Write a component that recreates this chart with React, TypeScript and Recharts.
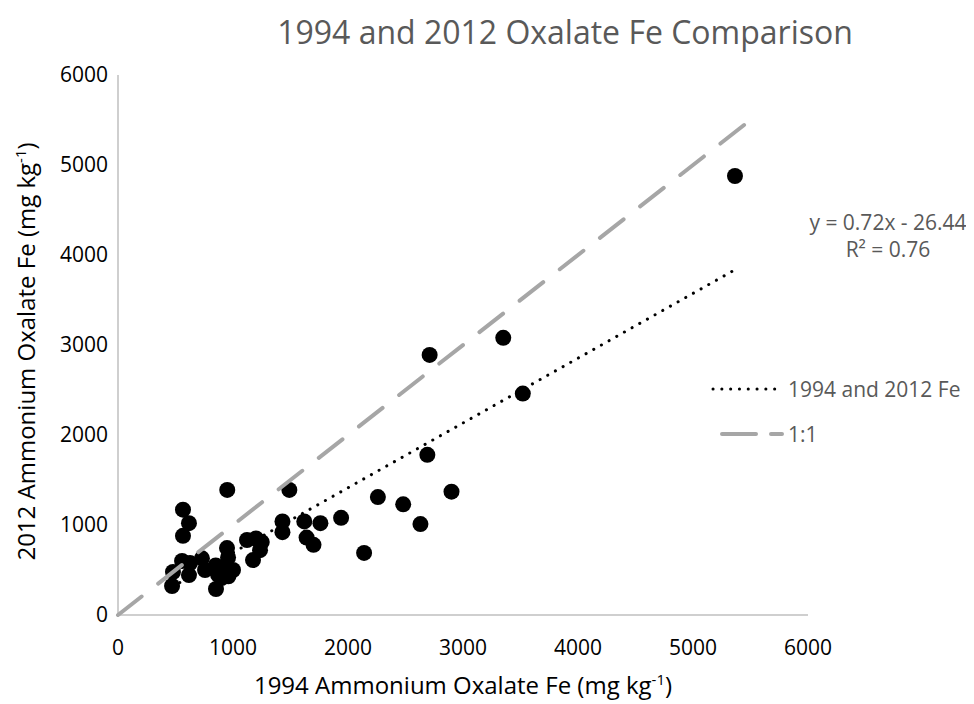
import { Scatter, ScatterChart, XAxis, YAxis } from 'recharts'

// 1994 vs 2012 ammonium oxalate Fe
const fe1994 = [
  5365, 3350, 3520, 2710, 2690, 2900, 2630, 2140, 2260, 2480,
  1940, 1760, 1620, 1430, 1430, 1640, 1700, 1490, 950, 565,
  617, 565, 557, 626, 478, 470, 617, 730, 757, 948,
  957, 852, 1122, 1200, 1250, 1174, 1235, 900, 850, 960,
  900, 1000, 930, 870,
]
const fe2012 = [
  4878, 3080, 2460, 2890, 1780, 1370, 1010, 690, 1310, 1230,
  1080, 1020, 1040, 1040, 920, 860, 780, 1390, 1390, 1170,
  1020, 880, 600, 578, 478, 322, 444, 630, 500, 744,
  640, 289, 833, 850, 810, 610, 720, 500, 550, 430,
  410, 500, 470, 450,
]
const axisTicks = [0, 1000, 2000, 3000, 4000, 5000, 6000]
const trendSlope = 0.72
const trendIntercept = -26.44
const oneToOneEnds = [0, 5500]

const points = fe1994.map((x, i) => ({ x, y: fe2012[i] }))
const xMin = Math.min(...fe1994)
const xMax = Math.max(...fe1994)
const trend = [xMin, xMax].map((x) => ({ x, y: trendSlope * x + trendIntercept }))
const oneToOne = oneToOneEnds.map((v) => ({ x: v, y: v }))

const FONT = '"Open Sans", sans-serif'
const GREY_TEXT = '#595959'
const AXIS = '#bfbfbf'
const DASH = '#a6a6a6'
const DOTS = '0.1 8.7'
const DASHES = '30 21'

const Dot = (p: { cx?: number; cy?: number }) => <circle cx={p.cx} cy={p.cy} r={8} fill="#000" />
const NoDot = () => null

export default function App() {
  return (
    <div style={{ position: 'relative', width: 966, height: 696, fontFamily: FONT }}>
      <div
        style={{
          position: 'absolute',
          left: 0,
          width: 1114,
          top: 2,
          textAlign: 'center',
          fontSize: 32,
          color: GREY_TEXT,
        }}
      >
        1994 and 2012 Oxalate Fe Comparison
      </div>

      <ScatterChart width={966} height={696} margin={{ top: 67, right: 166, bottom: 59, left: 0 }}>
        <XAxis
          type="number"
          dataKey="x"
          domain={[0, 6000]}
          ticks={axisTicks}
          height={30}
          tickLine={false}
          tickMargin={19}
          axisLine={{ stroke: AXIS, strokeWidth: 1.5 }}
          tick={{ fill: '#000', fontSize: 21, fontFamily: FONT }}
        />
        <YAxis
          type="number"
          dataKey="y"
          domain={[0, 6000]}
          ticks={axisTicks}
          width={110}
          tickLine={false}
          tickMargin={4}
          axisLine={{ stroke: AXIS, strokeWidth: 1.5 }}
          tick={{ fill: '#000', fontSize: 21, fontFamily: FONT }}
        />
        <Scatter data={points} shape={Dot} isAnimationActive={false} />
        <Scatter
          data={trend}
          shape={NoDot}
          line={{ stroke: '#000', strokeWidth: 3, strokeDasharray: DOTS, strokeLinecap: 'round' }}
          isAnimationActive={false}
        />
        <Scatter
          data={oneToOne}
          shape={NoDot}
          line={{ stroke: DASH, strokeWidth: 4, strokeDasharray: DASHES, strokeLinecap: 'round' }}
          isAnimationActive={false}
        />
      </ScatterChart>

      <div
        style={{ position: 'absolute', left: 110, width: 690, top: 660, textAlign: 'center', fontSize: 24, color: '#000' }}
      >
        1994 Ammonium Oxalate Fe (mg kg<sup style={{ fontSize: 15 }}>-1</sup>)
      </div>
      <div
        style={{
          position: 'absolute',
          left: 17,
          top: 343,
          width: 0,
          height: 0,
          display: 'flex',
          alignItems: 'center',
          justifyContent: 'center',
        }}
      >
        <div style={{ transform: 'rotate(-90deg)', whiteSpace: 'nowrap', fontSize: 24, color: '#000' }}>
          2012 Ammonium Oxalate Fe (mg kg<sup style={{ fontSize: 15 }}>-1</sup>)
        </div>
      </div>

      <div
        style={{
          position: 'absolute',
          left: 788,
          width: 184,
          top: 201,
          textAlign: 'center',
          fontSize: 21,
          lineHeight: '27px',
          color: GREY_TEXT,
        }}
      >
        <div>y = 0.72x - 26.44</div>
        <div>R² = 0.76</div>
      </div>

      <div style={{ position: 'absolute', left: 702, top: 366, fontSize: 21, color: GREY_TEXT }}>
        <div style={{ display: 'flex', alignItems: 'center', height: 30 }}>
          <svg width={76} height={10}>
            <line x1={3} y1={5} x2={73} y2={5} stroke="#000" strokeWidth={3} strokeDasharray={DOTS} strokeLinecap="round" />
          </svg>
          <span style={{ marginLeft: 2 }}>1994 and 2012 Fe</span>
        </div>
        <div style={{ display: 'flex', alignItems: 'center', height: 30, marginTop: 15 }}>
          <svg width={76} height={10}>
            <line x1={12} y1={5} x2={72} y2={5} stroke={DASH} strokeWidth={4} strokeDasharray="34 15" strokeLinecap="round" />
          </svg>
          <span style={{ marginLeft: 2 }}>1:1</span>
        </div>
      </div>
    </div>
  )
}
